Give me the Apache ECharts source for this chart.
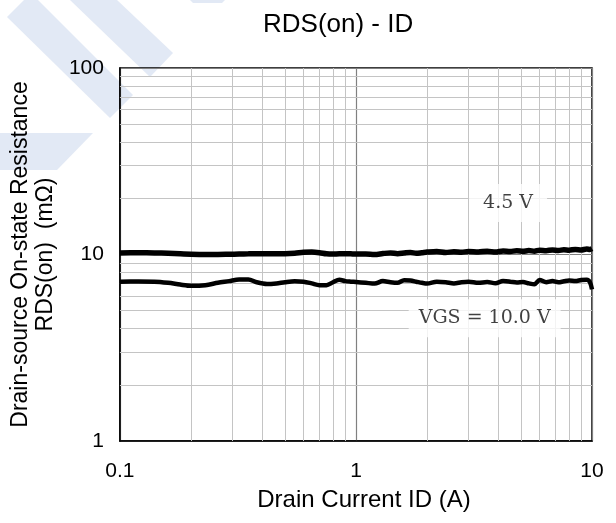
<!DOCTYPE html>
<html>
<head>
<meta charset="utf-8">
<script src="https://cdn.jsdelivr.net/npm/echarts/dist/echarts.min.js"></script>
<style>
html,body{margin:0;padding:0;background:#fff;}
#chart{width:616px;height:523px;}
</style>
</head>
<body>
<div id="chart"></div>
<script>
// ---- data ----
var titleText = 'RDS(on) - ID';
var xAxisName = 'Drain Current ID (A)';
var yAxisName = 'Drain-source On-state Resistance\nRDS(on)  (mΩ)';

var current = [0.10,0.12,0.14,0.16,0.18,0.20,0.23,0.26,0.29,0.32,0.35,0.38,
  0.42,0.46,0.50,0.55,0.60,0.65,0.70,0.75,0.80,0.85,0.90,0.95,1.0,
  1.1,1.2,1.3,1.4,1.5,1.6,1.7,1.8,1.9,2.0,
  2.2,2.4,2.6,2.8,3.0,
  3.3,3.6,3.9,4.2,4.5,4.8,5.1,5.4,5.7,6.0,
  6.4,6.8,7.2,7.6,8.0,
  8.5,9.0,9.5,9.8,10.0];

var rds45 = [10.2,10.22,10.2,10.15,10.08,10.03,10.0,10.0,10.03,10.06,10.08,10.1,
  10.1,10.1,10.1,10.15,10.28,10.3,10.22,10.08,10.05,10.1,10.1,10.08,10.05,
  10.05,10.0,10.12,10.2,10.1,10.18,10.25,10.15,10.22,10.3,
  10.38,10.25,10.35,10.28,10.38,
  10.32,10.42,10.3,10.45,10.38,10.48,10.4,10.5,10.42,10.55,
  10.48,10.58,10.5,10.6,10.55,
  10.65,10.58,10.7,10.65,10.75];

var rds10 = [7.15,7.16,7.15,7.05,6.9,6.8,6.85,7.05,7.2,7.35,7.35,7.1,
  6.95,7.0,7.1,7.18,7.15,7.0,6.85,6.85,7.1,7.32,7.2,7.15,7.12,
  7.05,6.98,7.2,7.1,7.05,7.28,7.25,7.15,7.05,6.98,
  7.15,7.1,7.0,7.1,7.15,
  7.05,7.12,7.02,7.2,7.15,7.08,7.12,7.0,6.92,7.3,
  7.1,7.2,7.1,7.18,7.25,
  7.2,7.3,7.32,7.1,6.5];

var xMinorGrid = [0.2,0.3,0.4,0.5,0.6,0.7,0.8,0.9,2,3,4,5,6,7,8,9];
var yMinorGrid = [2,3,4,5,6,7,8,9,20,30,40,50,60,70,80,90];

var annoText = ['4.5 V', 'VGS = 10.0 V'];
var annoX = [4.41, 3.51];
var annoY = [18.86, 4.55];

// ---- chart ----
function pairs(xs, ys){ return xs.map(function(x,i){ return [x, ys[i]]; }); }

var wmColor = '#e2e9f5';
var chart = echarts.init(document.getElementById('chart'), null, {renderer:'canvas'});
var option = {
  animation: false,
  backgroundColor: '#fff',
  title: {
    text: titleText,
    left: 258, top: 7,
    textStyle: {fontFamily: 'Liberation Sans', fontSize: 26, fontWeight: 'normal', color: '#000'}
  },
  graphic: [
    {type:'polygon', z:-10, silent:true, shape:{points:[[24,0],[38,0],[133,95],[110,118],[7,17]]}, style:{fill:wmColor}},
    {type:'polygon', z:-10, silent:true, shape:{points:[[70,0],[117,0],[173,53],[150,77]]}, style:{fill:wmColor}},
    {type:'polygon', z:-10, silent:true, shape:{points:[[0,133],[93,133],[57,170],[0,170]]}, style:{fill:wmColor}},
    {type:'polygon', z:-10, silent:true, shape:{points:[[190,0],[225,0],[222,3],[193,3]]}, style:{fill:wmColor}}
  ],
  grid: {left:116, right:24, top:68, bottom:82, show:true, borderColor:'#000', borderWidth:1.5, backgroundColor:'transparent'},
  xAxis: {
    type:'log', logBase:10, min:0.1, max:10,
    name: xAxisName, nameLocation:'middle', nameGap:47,
    nameTextStyle:{fontFamily:'Liberation Sans', fontSize:24, color:'#000', padding:[0,0,0,16]},
    axisLine:{show:true, lineStyle:{color:'#000', width:1.5}},
    axisTick:{show:false},
    axisLabel:{fontFamily:'Liberation Sans', fontSize:21, color:'#000', margin:20,
      formatter:function(v){ return String(+v.toPrecision(3)); }},
    splitLine:{show:true, lineStyle:{color:'#808080', width:1.2}}
  },
  yAxis: {
    type:'log', logBase:10, min:1, max:100,
    name: yAxisName, nameLocation:'middle', nameGap:54,
    nameTextStyle:{fontFamily:'Liberation Sans', fontSize:23, lineHeight:25, color:'#000'},
    axisLine:{show:true, lineStyle:{color:'#000', width:1.5}},
    axisTick:{show:false},
    axisLabel:{fontFamily:'Liberation Sans', fontSize:21, color:'#000', margin:16,
      formatter:function(v){ return String(+v.toPrecision(3)); }},
    splitLine:{show:true, lineStyle:{color:'#808080', width:1.2}}
  },
  series: [
    {
      type:'line', data:[], z:1, silent:true,
      markLine:{
        silent:true, symbol:'none', animation:false,
        label:{show:false},
        lineStyle:{type:'solid', color:'#c4c4c4', width:1},
        data: xMinorGrid.map(function(v){ return {xAxis:v}; })
          .concat(yMinorGrid.map(function(v){ return {yAxis:v}; }))
      }
    },
    {
      name:'4.5 V', type:'line', z:5, showSymbol:false, smooth:0.3,
      data: pairs(current, rds45),
      lineStyle:{color:'#000', width:5.5}
    },
    {
      name:'VGS = 10.0 V', type:'line', z:5, showSymbol:false, smooth:0.3,
      data: pairs(current, rds10),
      lineStyle:{color:'#000', width:4.5}
    },
    {
      type:'scatter', z:8, silent:true, symbolSize:0,
      data: annoText.map(function(t,i){
        return {
          value:[annoX[i], annoY[i]],
          label:{
            show:true, position:'inside', formatter:t,
            fontFamily:'DejaVu Serif', fontSize:19, lineHeight:20, color:'#111',
            backgroundColor:'#fff',
            padding: i === 0 ? [9, 14] : [9, 10]
          }
        };
      })
    }
  ]
};
chart.setOption(option);
</script>
</body>
</html>
